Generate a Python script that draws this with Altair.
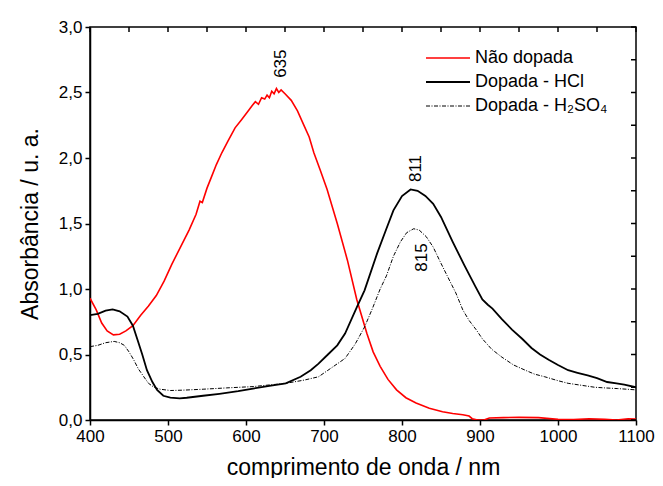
import altair as alt
import pandas as pd

# ---- data ----
nm_red = [400, 408, 415, 422, 430, 438, 446, 455, 465, 475, 485, 495, 505, 516, 527, 536, 541, 544, 550, 556, 562, 569, 577, 586, 594, 603, 608, 612, 616, 620, 624, 627, 630, 633, 636, 639, 642, 645, 650, 658, 666, 675, 681, 687, 695, 704, 717, 730, 742, 755, 763, 772, 782, 793, 805, 818, 835, 852, 865, 878, 886, 890, 897, 905, 912, 930, 950, 975, 1000, 1020, 1040, 1060, 1075, 1090, 1100]
abs_red = [0.93, 0.84, 0.74, 0.68, 0.65, 0.655, 0.68, 0.72, 0.80, 0.87, 0.95, 1.06, 1.19, 1.32, 1.45, 1.57, 1.67, 1.66, 1.77, 1.86, 1.95, 2.04, 2.13, 2.23, 2.29, 2.36, 2.40, 2.43, 2.41, 2.46, 2.45, 2.48, 2.46, 2.51, 2.49, 2.53, 2.50, 2.52, 2.49, 2.44, 2.36, 2.24, 2.16, 2.04, 1.91, 1.76, 1.50, 1.22, 0.92, 0.66, 0.52, 0.41, 0.31, 0.23, 0.17, 0.13, 0.09, 0.063, 0.05, 0.04, 0.03, 0.01, 0.0, 0.0, 0.015, 0.018, 0.02, 0.018, 0.005, 0.003, 0.01, 0.005, 0.0, 0.01, 0.008]

nm_hcl = [400, 410, 420, 429, 438, 448, 455, 461, 467, 473, 480, 486, 494, 503, 515, 524, 545, 566, 590, 609, 630, 651, 670, 683, 693, 705, 717, 727, 742, 752, 768, 780, 789, 800, 811, 820, 830, 840, 850, 865, 880, 894, 903, 910, 916, 928, 941, 954, 966, 977, 988, 1000, 1013, 1025, 1038, 1050, 1063, 1075, 1085, 1100]
abs_hcl = [0.80, 0.81, 0.835, 0.845, 0.83, 0.79, 0.72, 0.61, 0.50, 0.38, 0.29, 0.23, 0.185, 0.17, 0.165, 0.17, 0.185, 0.20, 0.22, 0.24, 0.26, 0.28, 0.33, 0.38, 0.43, 0.50, 0.57, 0.66, 0.86, 0.99, 1.27, 1.46, 1.60, 1.71, 1.76, 1.75, 1.71, 1.65, 1.55, 1.36, 1.18, 1.02, 0.92, 0.88, 0.85, 0.77, 0.69, 0.62, 0.55, 0.50, 0.46, 0.42, 0.38, 0.36, 0.34, 0.32, 0.29, 0.28, 0.27, 0.25]

nm_h2so4 = [400, 410, 420, 431, 438, 444, 450, 456, 462, 469, 475, 482, 490, 503, 520, 545, 575, 609, 651, 675, 693, 710, 727, 740, 752, 762, 772, 780, 789, 798, 806, 815, 822, 831, 840, 848, 858, 869, 878, 886, 895, 903, 915, 928, 943, 958, 970, 983, 1000, 1013, 1030, 1047, 1060, 1076, 1100]
abs_h2so4 = [0.56, 0.57, 0.59, 0.60, 0.59, 0.57, 0.52, 0.46, 0.39, 0.33, 0.28, 0.25, 0.235, 0.225, 0.228, 0.235, 0.245, 0.255, 0.28, 0.305, 0.33, 0.40, 0.47, 0.58, 0.71, 0.85, 1.00, 1.10, 1.25, 1.36, 1.43, 1.46, 1.45, 1.40, 1.32, 1.22, 1.10, 0.97, 0.84, 0.76, 0.69, 0.62, 0.54, 0.48, 0.42, 0.38, 0.35, 0.33, 0.30, 0.28, 0.265, 0.25, 0.245, 0.24, 0.23]

peak_labels = ["635", "811", "815"]
peak_nm = [645, 818, 825]
peak_abs = [2.72, 1.92, 1.24]

series_names = ["Não dopada", "Dopada - HCl", "Dopada - H₂SO₄"]

x_ticks = list(range(400, 1101, 50))
y_ticks = [i * 0.25 for i in range(13)]

FONT = "Liberation Sans"
XDOM = [400, 1100]
YDOM = [0, 3]
W, H = 546, 393

red_df = pd.DataFrame({"nm": nm_red, "A": abs_red})
hcl_df = pd.DataFrame({"nm": nm_hcl, "A": abs_hcl})
h2so4_df = pd.DataFrame({"nm": nm_h2so4, "A": abs_h2so4})
peaks_df = pd.DataFrame({"label": peak_labels, "nm": peak_nm, "A": peak_abs})
xt_df = pd.DataFrame({"nm": x_ticks})
yt_df = pd.DataFrame({"A": y_ticks})

xscale = alt.Scale(domain=XDOM, nice=False, zero=False)
yscale = alt.Scale(domain=YDOM, nice=False, zero=False)

x_axis = alt.Axis(
    values=x_ticks,
    labelExpr="datum.value % 100 === 0 ? datum.label : ''",
    format="d",
    title="comprimento de onda / nm",
    grid=False, tickSize=5, labelPadding=3, titlePadding=12,
    labelFlush=False, labelOverlap=False,
)
y_axis = alt.Axis(
    values=y_ticks,
    labelExpr="abs(datum.value*2 - round(datum.value*2)) < 0.001 ? replace(format(datum.value, '.1f'), '.', ',') : ''",
    title="Absorbância / u. a.",
    grid=False, tickSize=5, labelPadding=3, titlePadding=16,
    labelFlush=False, labelOverlap=False,
)

X = alt.X("nm:Q", scale=xscale, axis=x_axis)
Y = alt.Y("A:Q", scale=yscale, axis=y_axis)

red = alt.Chart(red_df).mark_line(color="#ff0000", strokeWidth=1.6, clip=True).encode(x=X, y=Y)
hcl = alt.Chart(hcl_df).mark_line(color="#000000", strokeWidth=1.8, clip=True).encode(x=X, y=Y)
h2so4 = alt.Chart(h2so4_df).mark_line(color="#000000", strokeWidth=1.0, strokeDash=[4, 1.5, 1, 1.5], clip=True).encode(x=X, y=Y)

peaks = alt.Chart(peaks_df).mark_text(angle=270, fontSize=17, font=FONT, color="black", align="center", baseline="middle").encode(
    x=alt.X("nm:Q", scale=xscale), y=alt.Y("A:Q", scale=yscale), text="label:N"
)

top_ticks = alt.Chart(xt_df).mark_rule(color="black", strokeWidth=1.5).encode(
    x=alt.X("nm:Q", scale=xscale), y=alt.value(0), y2=alt.value(5)
)
right_ticks = alt.Chart(yt_df).mark_rule(color="black", strokeWidth=1.5).encode(
    y=alt.Y("A:Q", scale=yscale), x=alt.value(W), x2=alt.value(W - 5)
)

# legend
legend_layers = []
leg_styles = [
    dict(color="#ff0000", strokeWidth=1.6),
    dict(color="#000000", strokeWidth=1.8),
    dict(color="#000000", strokeWidth=1.0, strokeDash=[4, 1.5, 1, 1.5]),
]
for i, (name, st) in enumerate(zip(series_names, leg_styles)):
    yy = 31 + 24 * i
    legend_layers.append(
        alt.Chart(pd.DataFrame({"s": [name]})).mark_rule(**st).encode(
            x=alt.value(336), x2=alt.value(380), y=alt.value(yy)
        )
    )
    legend_layers.append(
        alt.Chart(pd.DataFrame({"s": [name]})).mark_text(
            align="left", baseline="middle", fontSize=18, font=FONT, color="black"
        ).encode(x=alt.value(385), y=alt.value(yy), text="s:N")
    )

chart = alt.layer(red, hcl, h2so4, peaks, top_ticks, right_ticks, *legend_layers).properties(
    width=W, height=H,
    autosize=alt.AutoSizeParams(type="none"),
    padding={"left": 82, "top": 19, "right": 19, "bottom": 58},
).configure_view(
    stroke="black", strokeWidth=1.5
).configure_axis(
    domainColor="black", domainWidth=1.5, tickColor="black", tickWidth=1.5,
    labelColor="black", titleColor="black", labelFont=FONT, titleFont=FONT,
    labelFontSize=17, titleFontSize=23, titleFontWeight="normal",
)

chart.save("out.html", embed_options={"renderer": "svg", "actions": False})
